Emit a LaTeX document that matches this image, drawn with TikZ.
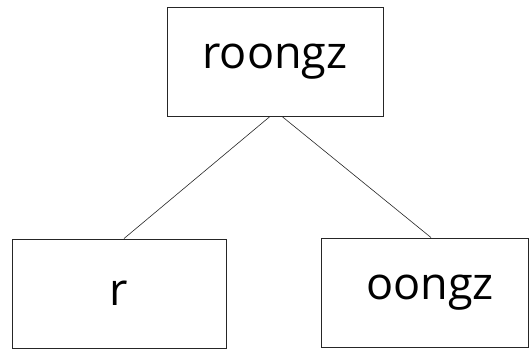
\documentclass[tikz,border=0pt]{standalone}
\usepackage{fontspec}
\setmainfont{Open Sans}
\usetikzlibrary{calc}
\begin{document}
\begin{tikzpicture}[x=1pt,y=1pt,
  treebox/.style={draw=black!85, line width=0.9pt, minimum height=109pt, inner sep=0pt, font=\fontsize{45}{50}\selectfont},
  edge/.style={draw=black!85, line width=0.6pt}]
\useasboundingbox (0,0) rectangle (530,350);
\node[treebox, minimum width=216pt] (root) at (275,288.5) {roongz};
\node[treebox, minimum width=214pt] (left) at (119,56.5) {r};
\node[treebox, minimum width=207pt] (right) at (424.5,57.5) {\hspace*{11pt}oongz};
\draw[edge] ($(root.south)+(-5,0)$) -- ($(left.north)+(5,0)$);
\draw[edge] ($(root.south)+(7,0)$) -- ($(right.north)+(6.5,0)$);
\end{tikzpicture}
\end{document}
